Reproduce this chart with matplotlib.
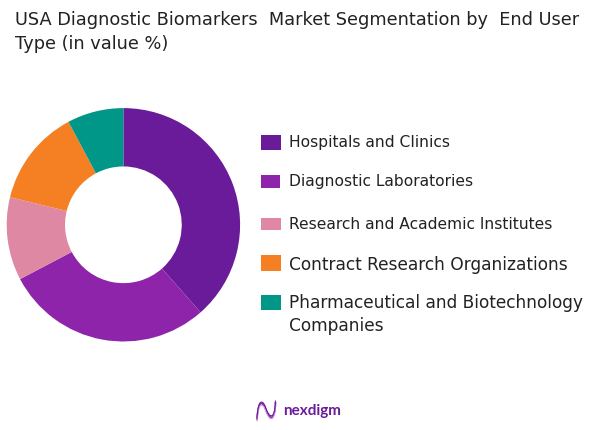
import numpy as np
import matplotlib
matplotlib.use("Agg")
import matplotlib.pyplot as plt
from matplotlib.patches import Rectangle, PathPatch
from matplotlib.path import Path

W, H = 606, 431
categories = ["Hospitals and Clinics", "Diagnostic Laboratories", "Research and Academic Institutes",
              "Contract Research Organizations", "Pharmaceutical and Biotechnology\nCompanies"]
values = [38.5, 28.8, 11.5, 13.4, 7.8]
colors = ["#6A1B9A", "#8E24AA", "#DF88A4", "#F58024", "#009688"]
title_lines = ["USA Diagnostic Biomarkers  Market Segmentation by  End User", "Type (in value %)"]

plt.rcParams['font.family'] = ['DejaVu Sans']
fig = plt.figure(figsize=(W/100, H/100), dpi=100, facecolor="white")

def fx(x): return x/W
def fy(y): return 1-y/H

cx, cy, R = 123.4, 225.8, 116.7
ax = fig.add_axes([fx(cx-R), fy(cy+R), 2*R/W, 2*R/H])
ax.pie(values, colors=colors, startangle=90, counterclock=False, radius=1,
       wedgeprops=dict(width=0.5, linewidth=0))
ax.set_xlim(-1, 1); ax.set_ylim(-1, 1); ax.set_aspect("equal")

for i, line in enumerate(title_lines):
    fig.text(fx(15), fy(20+24*i), line, fontsize=12.75, color="#222222", va="center", ha="left")

sw = [(136, 151, 281), (175.5, 188.5, 280), (218.5, 231, 280.5), (256, 271.5, 281), (295.5, 310.5, 281)]
ty = [143, 182, 224.5, 265.5, 303]
sizes = [11.2, 11.2, 11.2, 12.22, 12.22]
for c, col, (a, b, r), y, fs in zip(categories, colors, sw, ty, sizes):
    fig.patches.append(Rectangle((fx(261), fy(b)), (r-261)/W, (b-a)/H, transform=fig.transFigure,
                                 facecolor=col, edgecolor="none"))
    parts = c.split("\n")
    for j, p in enumerate(parts):
        fig.text(fx(289), fy(y+23*j), p, fontsize=fs, color="#222222", va="center", ha="left")

# logo
def P(x, y): return (fx(x), fy(y))
for col, dy, lw in [("#8E24AA", 0, 1.2), ("#C9A0DC", 1.5, 0.8), ("#6A1B9A", -1.5, 0.8)]:
    verts = [P(257, 421+dy), P(258, 400+dy), P(263, 402+dy), P(266, 411+dy),
             P(269, 420+dy), P(275, 424+dy), P(275.5, 403+dy)]
    codes = [Path.MOVETO] + [Path.CURVE4]*6
    fig.patches.append(PathPatch(Path(verts, codes), transform=fig.transFigure, facecolor="none", edgecolor=col, linewidth=lw))
fig.text(fx(283), fy(411.5), "nexdigm", fontsize=11, family="Lato", color="#6A1B9A", fontweight="bold", va="center", ha="left")

fig.savefig("out.png", dpi=100, facecolor="white")
